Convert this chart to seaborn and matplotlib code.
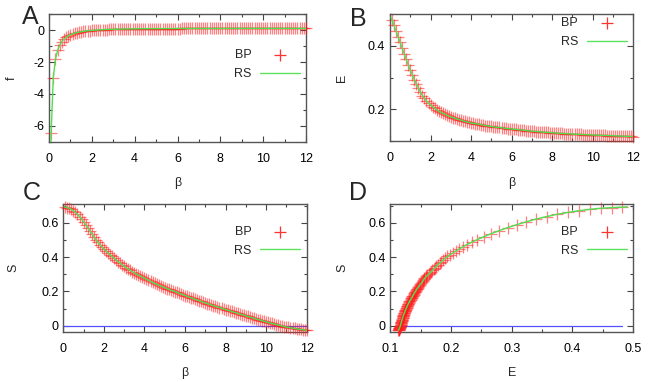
import numpy as np
import pandas as pd
import matplotlib
matplotlib.use("Agg")
import matplotlib.pyplot as plt
import matplotlib.ticker as mticker
import seaborn as sns

# ---------------- data ----------------
beta = np.round(np.linspace(0.1, 12.0, 120), 1)

E_bp = [0.482, 0.465, 0.447, 0.429, 0.411, 0.393, 0.375, 0.358, 0.340, 0.323,
        0.308, 0.293, 0.279, 0.266, 0.254, 0.243, 0.234, 0.226, 0.219, 0.213,
        0.208, 0.203, 0.198, 0.194, 0.190, 0.187, 0.184, 0.181, 0.178, 0.175,
        0.173, 0.171, 0.169, 0.167, 0.165, 0.163, 0.161, 0.159, 0.158, 0.156,
        0.155, 0.154, 0.153, 0.152, 0.151, 0.149, 0.148, 0.147, 0.146, 0.145,
        0.144, 0.143, 0.142, 0.142, 0.141, 0.140, 0.139, 0.138, 0.138, 0.137,
        0.136, 0.136, 0.135, 0.134, 0.134, 0.133, 0.132, 0.131, 0.131, 0.130,
        0.1295, 0.129, 0.1285, 0.128, 0.1275, 0.127, 0.1265, 0.126, 0.1255, 0.125,
        0.1246, 0.1242, 0.1238, 0.1234, 0.123, 0.1226, 0.1222, 0.1218, 0.1214, 0.121,
        0.1207, 0.1204, 0.1201, 0.1198, 0.1195, 0.1192, 0.1189, 0.1186, 0.1183, 0.118,
        0.1178, 0.1175, 0.1173, 0.117, 0.1168, 0.1165, 0.1163, 0.116, 0.1158, 0.1155,
        0.1153, 0.115, 0.1148, 0.1145, 0.1143, 0.114, 0.1138, 0.1135, 0.1133, 0.113]

S_bp = [0.692, 0.689, 0.685, 0.679, 0.671, 0.661, 0.650, 0.637, 0.622, 0.605,
        0.589, 0.572, 0.554, 0.537, 0.519, 0.502, 0.487, 0.473, 0.459, 0.447,
        0.436, 0.425, 0.414, 0.404, 0.394, 0.384, 0.374, 0.365, 0.356, 0.347,
        0.339, 0.331, 0.323, 0.315, 0.308, 0.301, 0.295, 0.289, 0.283, 0.277,
        0.271, 0.265, 0.259, 0.253, 0.247, 0.242, 0.237, 0.232, 0.227, 0.222,
        0.217, 0.213, 0.208, 0.204, 0.199, 0.194, 0.190, 0.185, 0.181, 0.176,
        0.172, 0.167, 0.163, 0.159, 0.154, 0.150, 0.146, 0.142, 0.137, 0.133,
        0.129, 0.125, 0.121, 0.117, 0.113, 0.110, 0.106, 0.102, 0.098, 0.094,
        0.090, 0.087, 0.083, 0.079, 0.076, 0.072, 0.068, 0.065, 0.061, 0.057,
        0.054, 0.050, 0.047, 0.043, 0.040, 0.036, 0.033, 0.029, 0.026, 0.022,
        0.019, 0.016, 0.013, 0.010, 0.007, 0.004, 0.001, -0.002, -0.005, -0.008,
        -0.010, -0.012, -0.014, -0.016, -0.018, -0.020, -0.022, -0.024, -0.025, -0.027]

f_bp = [-6.438, -2.980, -1.836, -1.269, -0.931, -0.709, -0.554, -0.438, -0.351, -0.282,
        -0.227, -0.184, -0.147, -0.118, -0.092, -0.071, -0.052, -0.037, -0.023, -0.011,
        0.000, 0.010, 0.018, 0.026, 0.032, 0.039, 0.045, 0.051, 0.055, 0.059,
        0.064, 0.068, 0.071, 0.074, 0.077, 0.079, 0.081, 0.083, 0.085, 0.087,
        0.089, 0.091, 0.093, 0.094, 0.096, 0.096, 0.098, 0.099, 0.100, 0.101,
        0.101, 0.102, 0.103, 0.104, 0.105, 0.105, 0.106, 0.106, 0.107, 0.108,
        0.108, 0.109, 0.109, 0.109, 0.110, 0.110, 0.110, 0.110, 0.111, 0.111,
        0.111, 0.111, 0.112, 0.112, 0.112, 0.112, 0.112, 0.113, 0.113, 0.113,
        0.113, 0.113, 0.114, 0.114, 0.114, 0.114, 0.114, 0.114, 0.115, 0.115,
        0.115, 0.115, 0.115, 0.115, 0.115, 0.116, 0.116, 0.116, 0.116, 0.116,
        0.116, 0.116, 0.116, 0.116, 0.116, 0.116, 0.116, 0.116, 0.116, 0.116,
        0.116, 0.116, 0.116, 0.116, 0.115, 0.115, 0.115, 0.115, 0.115, 0.115]

# RS curve: same values, plus one extra leading point at beta = 0.05
rs_beta_head = [0.05]
rs_E_head = [0.491]
rs_S_head = [0.693]
rs_f_head = [-13.37]

bp = pd.DataFrame({"beta": beta, "E": E_bp, "S": S_bp, "f": f_bp})
rs = pd.DataFrame({"beta": np.concatenate([rs_beta_head, beta]),
                   "E": rs_E_head + E_bp,
                   "S": rs_S_head + S_bp,
                   "f": rs_f_head + f_bp})

# ---------------- style ----------------
sns.set_theme(style="ticks")
plt.rcParams["font.family"] = ["Liberation Sans", "DejaVu Sans"]
plt.rcParams["axes.unicode_minus"] = False

W, H = 654, 382
fig = plt.figure(figsize=(W / 100, H / 100), dpi=100)
fig.patch.set_facecolor("white")


def pax(l, t, r, b):
    return fig.add_axes([l / W, 1 - b / H, (r - l) / W, (b - t) / H])


axA = pax(49, 14.3, 306, 141.7)
axB = pax(390, 14.3, 633.3, 140.7)
axC = pax(63.3, 204, 306.7, 331.7)
axD = pax(390.5, 204, 633, 331.7)

RED = "#ff1a1a"
GREEN = "#4ee04e"
BLUE = "#5050ff"
FS = 9


def draw(ax, xcol, ycol):
    sns.scatterplot(data=bp, x=xcol, y=ycol, ax=ax, marker="+", s=80,
                    color=RED, alpha=0.55, linewidth=0.9, label="BP",
                    legend=False, clip_on=False, zorder=3)
    sns.lineplot(data=rs, x=xcol, y=ycol, ax=ax, color=GREEN, lw=1.0,
                 sort=False, estimator=None, label="RS", legend=False, zorder=4)


draw(axA, "beta", "f")
draw(axB, "beta", "E")
draw(axC, "beta", "S")
draw(axD, "E", "S")

axC.axhline(0, color=BLUE, lw=0.9, zorder=2)
sns.lineplot(x=[min(E_bp), max(E_bp)], y=[0, 0], ax=axD, color=BLUE, lw=0.9,
             zorder=2, legend=False)

limits = {
    axA: ((0, 12), (-7, 1), 2, 1, 2, 1),
    axB: ((0, 12), (0.1, 0.5), 2, 1, 0.2, 0.1),
    axC: ((0, 12), (-0.035, 0.71), 2, 1, 0.2, 0.1),
    axD: ((0.1, 0.5), (-0.035, 0.71), 0.1, 0.05, 0.2, 0.1),
}
labels = {
    axA: ("β", "f", -0.324, -0.144),
    axB: ("β", "E", -0.335, -0.197),
    axC: ("β", "S", -0.323, -0.207),
    axD: ("E", "S", -0.323, -0.200),
}
leg_anchor = {
    axA: (0.977, 0.725),
    axB: (0.974, 0.975),
    axC: (0.974, 0.828),
    axD: (0.974, 0.828),
}

for ax, (xl, yl, xmaj, xmin, ymaj, ymin) in limits.items():
    ax.set_xlim(*xl)
    ax.set_ylim(*yl)
    ax.xaxis.set_major_locator(mticker.MultipleLocator(xmaj))
    ax.xaxis.set_minor_locator(mticker.MultipleLocator(xmin))
    ax.yaxis.set_major_locator(mticker.MultipleLocator(ymaj))
    ax.yaxis.set_minor_locator(mticker.MultipleLocator(ymin))
    ax.xaxis.set_major_formatter(mticker.FormatStrFormatter("%g"))
    ax.yaxis.set_major_formatter(mticker.FormatStrFormatter("%g"))
    ax.tick_params(which="both", direction="in", top=True, right=True,
                   colors="#444444", labelcolor="black", labelsize=FS)
    ax.tick_params(which="major", length=4.5, width=0.8)
    ax.tick_params(which="minor", length=2.5, width=0.8)
    ax.tick_params(axis="x", which="major", pad=8)
    ax.tick_params(axis="y", which="major", pad=3.5)
    for sp in ax.spines.values():
        sp.set_color("#555555")
        sp.set_linewidth(1.0)
    ax.set_facecolor("white")

    xlab, ylab, xly, ylx = labels[ax]
    ax.set_xlabel(xlab, fontsize=FS)
    ax.set_ylabel(ylab, fontsize=FS)
    ax.xaxis.set_label_coords(0.5, xly)
    ax.yaxis.set_label_coords(ylx, 0.5)
    ax.xaxis.label.set_va("center")
    ax.yaxis.label.set_va("center")

    h, lab = ax.get_legend_handles_labels()
    leg = ax.legend(h[:2], lab[:2], loc="upper right",
                    bbox_to_anchor=leg_anchor[ax], frameon=False,
                    markerfirst=False, fontsize=FS, borderpad=0,
                    borderaxespad=0, handlelength=3.2, handletextpad=0.7,
                    labelspacing=0.55, scatterpoints=1)
    for lh in leg.legend_handles:
        lh.set_alpha(0.9)

for txt, x, y in [("A", 22, 24.5), ("B", 350, 25.5), ("C", 23, 200), ("D", 349, 200)]:
    fig.text(x / W, 1 - y / H, txt, fontsize=18, ha="left", va="baseline")

fig.savefig("out.png", dpi=100, facecolor="white")
